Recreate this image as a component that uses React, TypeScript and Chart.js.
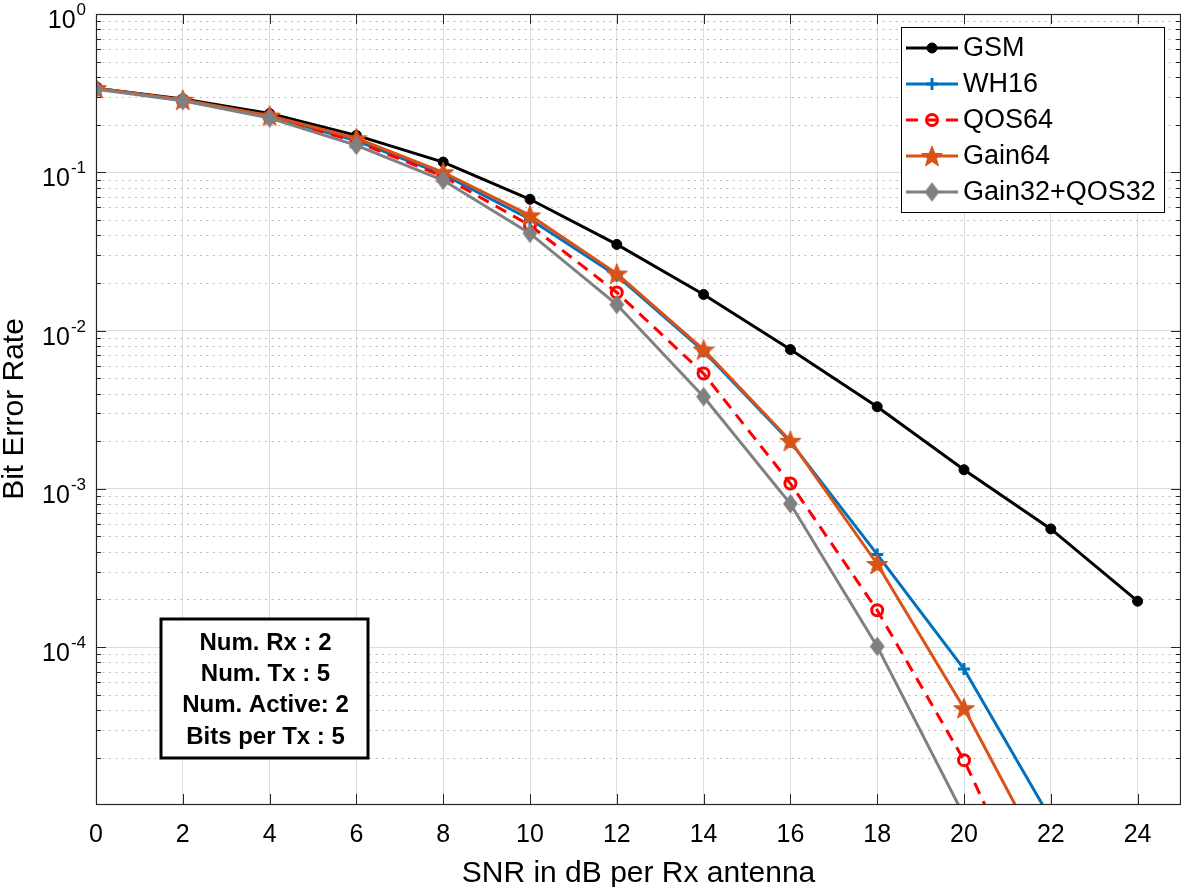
import React, { useEffect, useRef } from 'react';
import { Chart, registerables } from 'chart.js';

Chart.register(...registerables);

// ---------------- data ----------------
const snrGSM = [0, 2, 4, 6, 8, 10, 12, 14, 16, 18, 20, 22, 24];
const snrOther = [0, 2, 4, 6, 8, 10, 12, 14, 16, 18, 20, 22];

const berGSM = [0.34, 0.29, 0.235, 0.171, 0.116, 0.0675, 0.035, 0.0169, 0.00758, 0.0033, 0.00132, 0.000558, 0.000195];
const berWH16 = [0.34, 0.285, 0.226, 0.158, 0.097, 0.0505, 0.0222, 0.0074, 0.00198, 0.000385, 0.0000726, 0.0000082];
const berQOS64 = [0.34, 0.284, 0.224, 0.156, 0.094, 0.0462, 0.0174, 0.00535, 0.00108, 0.000171, 0.0000193, 0.0000013];
const berGain64 = [0.34, 0.287, 0.228, 0.164, 0.1, 0.0534, 0.0229, 0.00758, 0.00201, 0.000335, 0.0000411, 0.0000038];
const berGain32QOS32 = [0.335, 0.283, 0.22, 0.148, 0.089, 0.0411, 0.0146, 0.00382, 0.000804, 0.000101, 0.0000086, 0.0000005];

const seriesNames = ['GSM', 'WH16', 'QOS64', 'Gain64', 'Gain32+QOS32'];
const xTickValues = [0, 2, 4, 6, 8, 10, 12, 14, 16, 18, 20, 22, 24];
const xMin = 0;
const xMax = 25;
const yMin = 1.02e-5;
const yMax = 1;
const yMinExp = -5;
const yMaxExp = 0;
const xTitle = 'SNR in dB per Rx antenna';
const yTitle = 'Bit Error Rate';
const infoLines = ['Num. Rx : 2', 'Num. Tx : 5', 'Num. Active: 2', 'Bits per Tx : 5'];

const FONT = '"Liberation Sans", Arial, Helvetica, sans-serif';
const AXIS_COLOR = '#262626';

// ---------------- marker images ----------------
function makeStar(color: string, rOuter: number, rInner: number) {
  const size = Math.ceil(rOuter * 2 + 4);
  const c = document.createElement('canvas');
  c.width = size;
  c.height = size;
  const g = c.getContext('2d')!;
  g.beginPath();
  for (let i = 0; i < 10; i++) {
    const r = i % 2 === 0 ? rOuter : rInner;
    const a = -Math.PI / 2 + (i * Math.PI) / 5;
    const px = size / 2 + r * Math.cos(a);
    const py = size / 2 + 1 + r * Math.sin(a);
    if (i === 0) g.moveTo(px, py);
    else g.lineTo(px, py);
  }
  g.closePath();
  g.fillStyle = color;
  g.fill();
  g.strokeStyle = color;
  g.lineWidth = 1;
  g.stroke();
  return c;
}

function makeDiamond(color: string, hw: number, hh: number) {
  const w = Math.ceil(hw * 2 + 4);
  const h = Math.ceil(hh * 2 + 4);
  const c = document.createElement('canvas');
  c.width = w;
  c.height = h;
  const g = c.getContext('2d')!;
  g.beginPath();
  g.moveTo(w / 2, h / 2 - hh);
  g.lineTo(w / 2 + hw, h / 2);
  g.lineTo(w / 2, h / 2 + hh);
  g.lineTo(w / 2 - hw, h / 2);
  g.closePath();
  g.fillStyle = color;
  g.fill();
  g.strokeStyle = color;
  g.lineWidth = 1.5;
  g.stroke();
  return c;
}

function drawMarker(ctx: CanvasRenderingContext2D, ds: any, x: number, y: number) {
  const style = ds.pointStyle;
  ctx.save();
  ctx.setLineDash([]);
  if (typeof style === 'object') {
    ctx.drawImage(style, x - style.width / 2, y - style.height / 2);
  } else if (style === 'circle') {
    ctx.beginPath();
    ctx.arc(x, y, ds.pointRadius, 0, Math.PI * 2);
    ctx.fillStyle = ds.pointBackgroundColor;
    ctx.fill();
    ctx.lineWidth = ds.pointBorderWidth;
    ctx.strokeStyle = ds.pointBorderColor;
    ctx.stroke();
  } else if (style === 'cross') {
    ctx.beginPath();
    ctx.moveTo(x - ds.pointRadius, y);
    ctx.lineTo(x + ds.pointRadius, y);
    ctx.moveTo(x, y - ds.pointRadius);
    ctx.lineTo(x, y + ds.pointRadius);
    ctx.lineWidth = ds.pointBorderWidth;
    ctx.strokeStyle = ds.pointBorderColor;
    ctx.stroke();
  }
  ctx.restore();
}

const framePlugin = {
  id: 'matlabFrame',
  beforeDraw(chart: any) {
    const ctx = chart.ctx;
    ctx.save();
    ctx.fillStyle = '#ffffff';
    ctx.fillRect(0, 0, chart.width, chart.height);
    ctx.restore();
  },
  beforeDatasetsDraw(chart: any) {
    // minor dotted y grid
    const { ctx, chartArea: a, scales } = chart;
    const y = scales.y;
    ctx.save();
    ctx.strokeStyle = '#bdbdbd';
    ctx.lineWidth = 1;
    ctx.setLineDash([2, 4.5]);
    ctx.beginPath();
    for (const t of y.ticks) {
      if (t.major) continue;
      const py = Math.round(y.getPixelForValue(t.value)) + 0.5;
      ctx.moveTo(a.left, py);
      ctx.lineTo(a.right, py);
    }
    ctx.stroke();
    ctx.restore();
  },
  afterDraw(chart: any) {
    const { ctx, chartArea: a, scales } = chart;
    const x = scales.x;
    const y = scales.y;
    ctx.save();
    ctx.setLineDash([]);
    // ticks
    ctx.strokeStyle = AXIS_COLOR;
    ctx.lineWidth = 1;
    ctx.beginPath();
    for (const v of xTickValues) {
      const px = Math.round(x.getPixelForValue(v)) + 0.5;
      ctx.moveTo(px, a.bottom);
      ctx.lineTo(px, a.bottom - 10);
      ctx.moveTo(px, a.top);
      ctx.lineTo(px, a.top + 10);
    }
    for (const t of y.ticks) {
      const py = Math.round(y.getPixelForValue(t.value)) + 0.5;
      const len = t.major ? 10 : 5;
      ctx.moveTo(a.left, py);
      ctx.lineTo(a.left + len, py);
      ctx.moveTo(a.right, py);
      ctx.lineTo(a.right - len, py);
    }
    ctx.stroke();
    // box
    ctx.lineWidth = 1.2;
    ctx.strokeRect(a.left + 0.5, a.top + 0.5, a.right - a.left - 1, a.bottom - a.top);

    // x tick labels
    ctx.fillStyle = '#000';
    ctx.font = `25px ${FONT}`;
    ctx.textAlign = 'center';
    ctx.textBaseline = 'alphabetic';
    for (const v of xTickValues) {
      ctx.fillText(String(v), x.getPixelForValue(v), a.bottom + 38);
    }
    // y tick labels 10^n
    for (let d = yMinExp; d <= yMaxExp; d++) {
      const val = Math.pow(10, d);
      if (val < yMin || val > yMax) continue;
      const py = y.getPixelForValue(val);
      const exp = d === 0 ? '0' : '-' + String(-d);
      ctx.textAlign = 'right';
      ctx.font = `17px ${FONT}`;
      const ew = ctx.measureText(exp).width;
      ctx.fillText(exp, 86, py + 1);
      ctx.font = `25px ${FONT}`;
      ctx.fillText('10', 86 - ew - 1, py + 14);
    }
    // axis titles
    ctx.font = `30px ${FONT}`;
    ctx.textAlign = 'center';
    ctx.fillText(xTitle, (a.left + a.right) / 2, 882);
    ctx.save();
    ctx.translate(23, (a.top + a.bottom) / 2);
    ctx.rotate(-Math.PI / 2);
    ctx.fillText(yTitle, 0, 0);
    ctx.restore();

    // legend
    const lx = 901, ly = 27, lw = 263, lh = 185;
    ctx.fillStyle = '#fff';
    ctx.fillRect(lx, ly, lw, lh);
    ctx.strokeStyle = '#000';
    ctx.lineWidth = 1;
    ctx.strokeRect(lx + 0.5, ly + 0.5, lw, lh);
    const datasets = chart.data.datasets;
    datasets.forEach((ds: any, i: number) => {
      const ry = 48 + i * 36;
      ctx.save();
      ctx.strokeStyle = ds.borderColor;
      ctx.lineWidth = ds.borderWidth;
      ctx.setLineDash(ds.borderDash || []);
      ctx.beginPath();
      ctx.moveTo(906, ry);
      ctx.lineTo(958, ry);
      ctx.stroke();
      ctx.restore();
      drawMarker(ctx, ds, 932, ry);
      ctx.fillStyle = '#000';
      ctx.font = `27px ${FONT}`;
      ctx.textAlign = 'left';
      ctx.textBaseline = 'middle';
      ctx.fillText(ds.label, 963, ry + 1);
    });

    // info box
    const bx = 161, by = 619, bw = 207, bh = 139;
    ctx.fillStyle = '#fff';
    ctx.fillRect(bx, by, bw, bh);
    ctx.strokeStyle = '#000';
    ctx.lineWidth = 3;
    ctx.strokeRect(bx, by, bw, bh);
    ctx.fillStyle = '#000';
    ctx.font = `bold 24px ${FONT}`;
    ctx.textAlign = 'center';
    ctx.textBaseline = 'middle';
    infoLines.forEach((s, i) => {
      ctx.fillText(s, bx + bw / 2 + 1, 643 + i * 31.3);
    });
    ctx.restore();
  },
};

export default function App() {
  const ref = useRef<HTMLCanvasElement | null>(null);
  useEffect(() => {
    const canvas = ref.current!;
    const star = makeStar('#D95319', 11, 4.6);
    const diamond = makeDiamond('#808080', 6.5, 8.5);
    const pts = (xs: number[], ys: number[]) => xs.map((v, i) => ({ x: v, y: ys[i] }));
    const chart = new Chart(canvas, {
      type: 'line',
      data: {
        datasets: [
          {
            label: seriesNames[0],
            data: pts(snrGSM, berGSM),
            borderColor: '#000000',
            borderWidth: 3,
            pointStyle: 'circle',
            pointRadius: 5,
            pointBackgroundColor: '#000000',
            pointBorderColor: '#000000',
            pointBorderWidth: 1,
            order: 5,
          },
          {
            label: seriesNames[1],
            data: pts(snrOther, berWH16),
            borderColor: '#0072BD',
            borderWidth: 3,
            pointStyle: 'cross',
            pointRadius: 6,
            pointBackgroundColor: '#0072BD',
            pointBorderColor: '#0072BD',
            pointBorderWidth: 3,
            order: 4,
          },
          {
            label: seriesNames[2],
            data: pts(snrOther, berQOS64),
            borderColor: '#FF0000',
            borderWidth: 3,
            borderDash: [12, 8],
            pointStyle: 'circle',
            pointRadius: 5.5,
            pointBackgroundColor: 'rgba(0,0,0,0)',
            pointBorderColor: '#FF0000',
            pointBorderWidth: 3,
            order: 3,
          },
          {
            label: seriesNames[3],
            data: pts(snrOther, berGain64),
            borderColor: '#D95319',
            borderWidth: 3,
            pointStyle: star as any,
            pointRadius: 10,
            pointBackgroundColor: '#D95319',
            pointBorderColor: '#D95319',
            pointBorderWidth: 1,
            order: 2,
          },
          {
            label: seriesNames[4],
            data: pts(snrOther, berGain32QOS32),
            borderColor: '#808080',
            borderWidth: 3,
            pointStyle: diamond as any,
            pointRadius: 8,
            pointBackgroundColor: '#808080',
            pointBorderColor: '#808080',
            pointBorderWidth: 1,
            order: 1,
          },
        ],
      },
      options: {
        animation: false,
        responsive: false,
        devicePixelRatio: 1,
        events: [],
        layout: { autoPadding: false, padding: { top: 14, right: 0, left: 0, bottom: 0 } },
        plugins: { legend: { display: false }, tooltip: { enabled: false } },
        elements: { line: { tension: 0 } },
        scales: {
          x: {
            type: 'linear',
            min: xMin,
            max: xMax,
            afterBuildTicks: (scale: any) => {
              scale.ticks = xTickValues.map((v) => ({ value: v }));
            },
            afterFit: (scale: any) => {
              scale.height = 83;
            },
            ticks: { display: false },
            grid: { color: '#dcdcdc', lineWidth: 1, drawTicks: false },
            border: { display: false },
          },
          y: {
            type: 'logarithmic',
            min: yMin,
            max: yMax,
            afterBuildTicks: (scale: any) => {
              const t: any[] = [];
              for (let d = yMinExp; d <= yMaxExp; d++) {
                for (let m = 1; m <= 9; m++) {
                  const v = m * Math.pow(10, d);
                  if (v < yMin || v > yMax * 1.0000001) continue;
                  t.push({ value: v, major: m === 1 });
                }
              }
              scale.ticks = t;
            },
            afterFit: (scale: any) => {
              scale.width = 96;
            },
            ticks: { display: false },
            grid: {
              color: (c: any) => (c.tick && c.tick.major ? '#dcdcdc' : 'rgba(0,0,0,0)'),
              lineWidth: 1,
              drawTicks: false,
            },
            border: { display: false },
          },
        },
      },
      plugins: [framePlugin],
    } as any);
    return () => chart.destroy();
  }, []);
  return (
    <div style={{ position: 'absolute', left: 0, top: 0, width: 1181, height: 887 }}>
      <canvas ref={ref} width={1181} height={887} style={{ display: 'block' }} />
    </div>
  );
}
